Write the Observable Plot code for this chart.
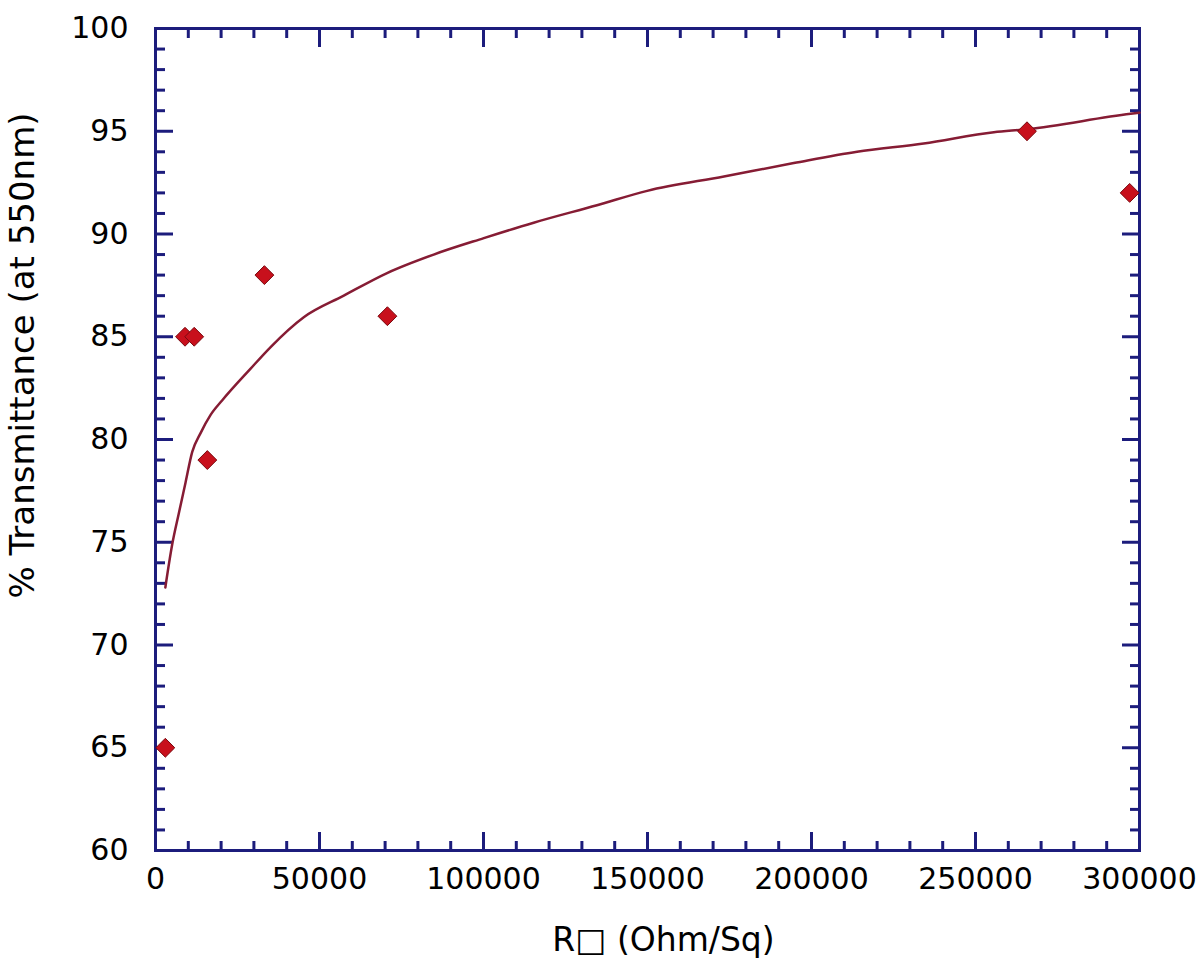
<!DOCTYPE html>
<html>
<head>
<meta charset="utf-8">
<script src="https://cdn.jsdelivr.net/npm/d3@7"></script>
<script src="https://cdn.jsdelivr.net/npm/@observablehq/plot@0.6"></script>
<style>
  html, body { margin: 0; padding: 0; background: #fff; }
  #chart svg { display: block; }
</style>
</head>
<body>
<div id="chart"></div>
<script>
// Measured points
const sampleR = [3000, 9000, 11800, 15800, 33200, 70700, 265700, 297000];
const sampleT = [65, 85, 85, 79, 88, 86, 95, 92];

// Fitted curve
const curveR = [3000, 5100, 7100, 9150, 11200, 13700, 16800, 20300, 29000, 35100, 45200, 57400, 70600, 84800, 100100, 115300, 134600, 149900, 173300, 194600, 213900, 234200, 255600, 265800, 297300, 300000];
const curveT = [72.8, 74.9, 76.4, 77.9, 79.4, 80.3, 81.2, 81.9, 83.45, 84.5, 85.95, 87.0, 88.1, 89.0, 89.8, 90.55, 91.4, 92.1, 92.8, 93.45, 94.0, 94.4, 94.95, 95.1, 95.85, 95.9];

// Tick values
const xMajor = [0, 50000, 100000, 150000, 200000, 250000, 300000];
const xMinor = [10000, 20000, 30000, 40000, 60000, 70000, 80000, 90000, 110000, 120000, 130000, 140000, 160000, 170000, 180000, 190000, 210000, 220000, 230000, 240000, 260000, 270000, 280000, 290000];
const yMajor = [60, 65, 70, 75, 80, 85, 90, 95, 100];
const yMinor = [61, 62, 63, 64, 66, 67, 68, 69, 71, 72, 73, 74, 76, 77, 78, 79, 81, 82, 83, 84, 86, 87, 88, 89, 91, 92, 93, 94, 96, 97, 98, 99];

const xLabel = "R\u25A1 (Ohm/Sq)";
const yLabel = "% Transmittance (at 550nm)";

const points = sampleR.map((r, i) => ({r, t: sampleT[i]}));
const curve = curveR.map((r, i) => ({r, t: curveT[i]}));

const navy = "#1c1c7c";
const fs = 30;

const tickAxes = [];
for (const anchor of ["bottom", "top"]) {
  tickAxes.push(Plot.axisX({ticks: xMajor, anchor, tickSize: -18, stroke: navy, strokeWidth: 3, tickFormat: () => "", label: null}));
  tickAxes.push(Plot.axisX({ticks: xMinor, anchor, tickSize: -9, stroke: navy, strokeWidth: 3, tickFormat: () => "", label: null}));
}
for (const anchor of ["left", "right"]) {
  tickAxes.push(Plot.axisY({ticks: yMajor, anchor, tickSize: -18, stroke: navy, strokeWidth: 3, tickFormat: () => "", label: null}));
  tickAxes.push(Plot.axisY({ticks: yMinor, anchor, tickSize: -10, stroke: navy, strokeWidth: 3, tickFormat: () => "", label: null}));
}

const chart = Plot.plot({
  width: 1200,
  height: 970,
  marginLeft: 155,
  marginRight: 61,
  marginTop: 28,
  marginBottom: 120,
  style: {fontFamily: "DejaVu Sans", fontSize: "30px", background: "#fff", color: "#000"},
  x: {domain: [0, 300000], axis: null, label: null},
  y: {domain: [60, 100], axis: null, label: null},
  marks: [
    ...tickAxes,
    Plot.axisX({ticks: xMajor, anchor: "bottom", tickSize: 0, tickPadding: 17, fontSize: fs, fill: "#000", tickFormat: d => String(d), label: null}),
    Plot.axisY({ticks: yMajor, anchor: "left", tickSize: 0, tickPadding: 27, fontSize: fs, fill: "#000", tickFormat: d => String(d), label: null}),
    Plot.frame({stroke: navy, strokeWidth: 3}),
    Plot.line(curve, {x: "r", y: "t", stroke: "#861c34", strokeWidth: 2.5, curve: "monotone-x"}),
    Plot.dot(points, {x: "r", y: "t", symbol: "diamond2", r: 8.5, fill: "#c8101c", stroke: "#7a0a10", strokeWidth: 1}),
    Plot.text([xLabel], {text: d => d, frameAnchor: "bottom", textAnchor: "middle", lineAnchor: "middle", dx: 16, dy: 90, fontSize: 33, fill: "#000"}),
    Plot.text([yLabel], {text: d => d, frameAnchor: "left", textAnchor: "middle", lineAnchor: "middle", rotate: -90, dx: -132, dy: -84, fontSize: 34, fill: "#000"})
  ]
});
document.getElementById("chart").appendChild(chart);
</script>
</body>
</html>
